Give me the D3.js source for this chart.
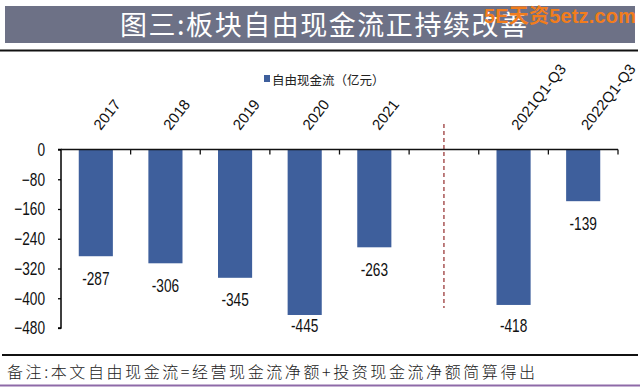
<!DOCTYPE html>
<html>
<head>
<meta charset="utf-8">
<script src="https://cdn.jsdelivr.net/npm/d3@7"></script>
<style>
  body { margin: 0; background: #fff; }
  svg { display: block; }
</style>
</head>
<body>
<svg id="chart" width="640" height="387"></svg>
<script>
const categories = ["2017", "2018", "2019", "2020", "2021", "", "2021Q1-Q3", "2022Q1-Q3"];
const values = [-287, -306, -345, -445, -263, null, -418, -139];
const yTicks = [0, -80, -160, -240, -320, -400, -480];
const seriesName = "自由现金流（亿元）";
const titleText = "图三:板块自由现金流正持续改善";
const noteText = "备注:本文自由现金流=经营现金流净额+投资现金流净额简算得出";

const svg = d3.select("#chart");
const numFont = "'Liberation Sans', Arial, sans-serif";
const narrow = 0.76;

// title bar
svg.append("rect")
  .attr("x", 5).attr("y", 6).attr("width", 630).attr("height", 37)
  .attr("fill", "#6d7186");
svg.append("text")
  .attr("x", 120).attr("y", 35)
  .attr("font-family", "'Noto Sans CJK SC', sans-serif")
  .attr("font-size", "27px")
  .attr("fill", "#fff")
  .attr("textLength", 407)
  .text(titleText);
svg.append("text")
  .attr("x", 484).attr("y", 23)
  .attr("font-family", "'Liberation Sans', 'Noto Sans CJK SC', sans-serif")
  .attr("font-size", "20px")
  .attr("font-weight", "bold")
  .attr("fill", "#f27d1c")
  .attr("textLength", 152)
  .text("5E天资5etz.com");

svg.append("line").attr("x1", 0).attr("x2", 638).attr("y1", 50.5).attr("y2", 50.5)
  .attr("stroke", "#111").attr("stroke-width", 2);
svg.append("line").attr("x1", 2).attr("x2", 638).attr("y1", 355).attr("y2", 355)
  .attr("stroke", "#111").attr("stroke-width", 2);
svg.append("line").attr("x1", 0).attr("x2", 640).attr("y1", 385.5).attr("y2", 385.5)
  .attr("stroke", "#8e6aa8").attr("stroke-width", 2);

svg.append("text")
  .attr("x", 7).attr("y", 378)
  .attr("font-family", "'Noto Sans CJK SC', sans-serif")
  .attr("font-size", "16px")
  .attr("font-weight", 300)
  .attr("fill", "#222")
  .attr("textLength", 528)
  .text(noteText);

// plot
const x = d3.scaleBand().domain(d3.range(categories.length)).range([61, 618]).paddingInner(0).paddingOuter(0);
const y = d3.scaleLinear().domain([0, -480]).range([149.5, 328]);
const barW = x.bandwidth() * 0.49;

// legend
svg.append("rect").attr("x", 264).attr("y", 75).attr("width", 6).attr("height", 7).attr("fill", "#3e5f9c");
svg.append("text")
  .attr("x", 272).attr("y", 84.5)
  .attr("font-family", "'Noto Sans CJK SC', sans-serif")
  .attr("font-size", "12.5px")
  .attr("fill", "#222")
  .text(seriesName);

// bars
const barData = values.map((v, i) => ({ i, v })).filter(d => d.v !== null);
svg.selectAll("rect.bar")
  .data(barData)
  .enter().append("rect")
  .attr("class", "bar")
  .attr("x", d => x(d.i) + (x.bandwidth() - barW) / 2)
  .attr("y", y(0))
  .attr("width", barW)
  .attr("height", d => y(d.v) - y(0))
  .attr("fill", "#3e5f9c");

// value labels, kept inside plot bottom
svg.selectAll("text.val")
  .data(barData)
  .enter().append("text")
  .attr("class", "val")
  .attr("transform", d => `translate(${x(d.i) + x.bandwidth() / 2},${Math.min(y(d.v) + 22, y(-480) - 3) + 6.5}) scale(${narrow},1)`)
  .attr("text-anchor", "middle")
  .attr("font-family", numFont)
  .attr("font-size", "18px")
  .attr("fill", "#111")
  .text(d => d.v);

// separator
const sepX = x(5) + x.bandwidth() / 2;
svg.append("line")
  .attr("x1", sepX).attr("x2", sepX).attr("y1", 124).attr("y2", 308)
  .attr("stroke", "#9b3b3b").attr("stroke-width", 1.3)
  .attr("stroke-dasharray", "4,3");

// y axis
const yAxis = d3.axisLeft(y).tickValues(yTicks).tickSize(3).tickPadding(4).tickFormat(d3.format("d"));
const gy = svg.append("g").attr("transform", "translate(61,0)").call(yAxis);
gy.select(".domain").attr("stroke-width", 1.5).attr("d", `M-3,${y(-480)}H0V${y(0)}H-3`);
gy.selectAll(".tick line").attr("stroke-width", 1.3);
gy.selectAll("text")
  .attr("font-family", numFont)
  .attr("font-size", "18px")
  .attr("fill", "#111")
  .attr("x", -16 / narrow)
  .attr("transform", `scale(${narrow},1)`);

// x axis line with ticks between categories
const bounds = d3.range(1, categories.length + 1).map(i => x(i) !== undefined ? x(i) : 618);
const gx = svg.append("g");
gx.append("line").attr("x1", 61).attr("x2", 618).attr("y1", y(0)).attr("y2", y(0))
  .attr("stroke", "#111").attr("stroke-width", 1.5);
gx.selectAll("line.tk")
  .data(bounds)
  .enter().append("line")
  .attr("class", "tk")
  .attr("x1", d => d).attr("x2", d => d)
  .attr("y1", y(0)).attr("y2", y(0) + 5)
  .attr("stroke", "#111").attr("stroke-width", 1.3);

// rotated category labels above the plot
svg.selectAll("text.cat")
  .data(categories.map((c, i) => ({ c, i })).filter(d => d.c))
  .enter().append("text")
  .attr("class", "cat")
  .attr("transform", d => `translate(${x(d.i) + x.bandwidth() / 2 + 5},131) rotate(-52)`)
  .attr("font-family", "'Liberation Sans', Arial, sans-serif")
  .attr("font-size", "15px")
  .attr("fill", "#111")
  .text(d => d.c);
</script>
</body>
</html>
